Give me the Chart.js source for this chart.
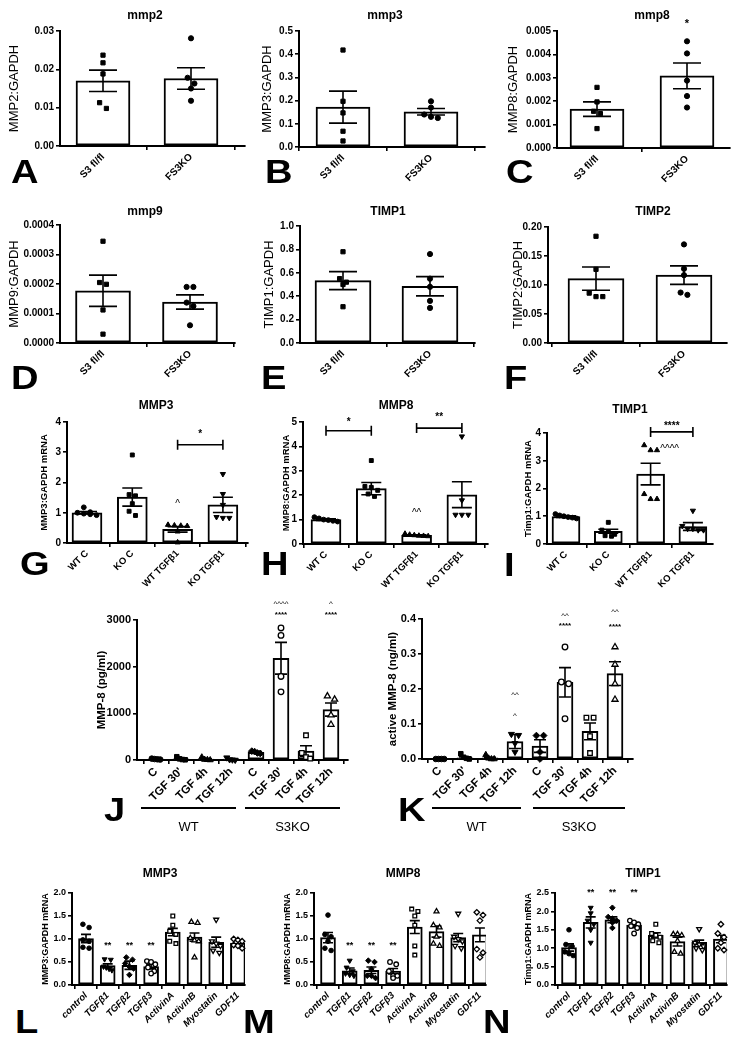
<!DOCTYPE html>
<html><head><meta charset="utf-8">
<script src="https://cdn.jsdelivr.net/npm/chart.js@4.4.1/dist/chart.umd.min.js"></script>
<style>
html,body{margin:0;padding:0;background:#fff;}
body{width:737px;height:1040px;position:relative;overflow:hidden;font-family:"Liberation Sans",Arial,sans-serif;color:#000;}
.ttl{position:absolute;transform:translate(-50%,-50%);font-weight:bold;font-size:12px;white-space:nowrap;}
.let{position:absolute;font-weight:bold;font-size:34px;line-height:1;transform-origin:0 0;transform:scaleX(1.12);}
.gl{position:absolute;height:2px;background:#000;}
.gt{position:absolute;transform:translate(-50%,-50%);font-size:13px;white-space:nowrap;}
</style></head><body>
<script>
// ================= DATA =================
const AF_cats = ['S3 fl/fl', 'FS3KO'];
const A_yticks = ['0.00','0.01','0.02','0.03'];
const A_means = [0.0170, 0.0176];
const A_sems = [0.0028, 0.0028];
const A_points = [[0.0237,0.0217,0.0188,0.0113,0.0098],[0.0281,0.0178,0.0163,0.0150,0.0118]];

const B_yticks = ['0.0','0.1','0.2','0.3','0.4','0.5'];
const B_means = [0.172, 0.152];
const B_sems = [0.069, 0.014];
const B_points = [[0.418,0.197,0.147,0.068,0.026],[0.197,0.170,0.140,0.130,0.125]];

const C_yticks = ['0.000','0.001','0.002','0.003','0.004','0.005'];
const C_means = [0.00166, 0.00308];
const C_sems = [0.00031, 0.00055];
const C_points = [[0.00259,0.00197,0.00157,0.00147,0.00083],[0.00456,0.00404,0.00288,0.00222,0.00173]];
const C_marks = [{at:1, y:0.0053, text:'*'}];

const D_yticks = ['0.0000','0.0001','0.0002','0.0003','0.0004'];
const D_means = [0.000177, 0.000139];
const D_sems = [0.000053, 0.000024];
const D_points = [[0.000345,0.000205,0.000199,0.000112,0.00003],[0.000190,0.000190,0.000137,0.000125,0.00006]];

const E_yticks = ['0.0','0.2','0.4','0.6','0.8','1.0'];
const E_means = [0.533, 0.485];
const E_sems = [0.077, 0.082];
const E_points = [[0.78,0.55,0.52,0.50,0.31],[0.76,0.55,0.48,0.36,0.30]];

const F_yticks = ['0.00','0.05','0.10','0.15','0.20'];
const F_means = [0.111, 0.117];
const F_sems = [0.020, 0.016];
const F_points = [[0.184,0.127,0.086,0.080,0.080],[0.170,0.128,0.117,0.087,0.083]];

const GHI_cats = ['WT C','KO C','WT TGFβ1','KO TGFβ1'];
const G_yticks = ['0','1','2','3','4'];
const G_means = [1.00, 1.52, 0.45, 1.26];
const G_sems = [0.04, 0.30, 0.09, 0.25];
const G_points = [[1.18,1.02,1.00,0.97,0.95,0.92],[2.91,1.60,1.56,1.30,1.05,0.91],[0.60,0.58,0.57,0.56,0.38,0.02],[2.28,1.62,1.26,0.86,0.83,0.83]];
const G_marks = [{at:2, y:1.27, text:'^'}];
const G_brackets = [{from:2, to:3, y:3.25, textY:3.58, text:'*'}];

const H_yticks = ['0','1','2','3','4','5'];
const H_means = [1.00, 2.27, 0.36, 2.02];
const H_sems = [0.03, 0.25, 0.02, 0.53];
const H_points = [[1.10,1.05,1.00,0.98,0.95,0.92],[3.42,2.36,2.32,2.20,2.05,1.95],[0.42,0.38,0.36,0.34,0.33,0.32],[4.41,1.79,1.20,1.20,1.20]];
const H_marks = [{at:2, y:1.27, text:'^^'}];
const H_brackets = [{from:0, to:1, y:4.64, textY:5.0, text:'*'},{from:2, to:3, y:4.75, textY:5.2, text:'**'}];

const I_yticks = ['0','1','2','3','4'];
const I_means = [0.99, 0.46, 2.52, 0.63];
const I_sems = [0.03, 0.07, 0.39, 0.14];
const I_points = [[1.08,1.03,1.00,0.97,0.95,0.92],[0.78,0.50,0.45,0.35,0.30,0.28],[3.56,3.38,3.38,1.80,1.62,1.62],[1.20,0.65,0.55,0.55,0.50,0.50]];
const I_marks = [{at:2.45, y:3.42, text:'^^^^'}];
const I_brackets = [{from:2, to:3, y:4.04, textY:4.24, text:'****'}];

const JK_cats = ['C',"TGF 30'",'TGF 4h','TGF 12h','C',"TGF 30'",'TGF 4h','TGF 12h'];
const JK_groups = ['WT','S3KO'];
const J_yticks = ['0','1000','2000','3000'];
const J_means = [20, 25, 15, 15, 165, 2180, 190, 1080];
const J_sems = [8, 15, 12, 8, 15, 340, 115, 140];
const J_points = [[30,20,15,10],[70,25,10,5],[60,10,5,0],[50,10,5,0],[190,180,150,140],[2830,2670,1790,1460],[530,150,60,30],[1370,1300,960,760]];
const J_marks = [{at:5, y:3343, text:'^^^^'},{at:5, y:3121, text:'****'},{at:7, y:3343, text:'^'},{at:7, y:3121, text:'****'}];

const K_yticks = ['0.0','0.1','0.2','0.3','0.4'];
const K_means = [0.000, 0.003, 0.003, 0.050, 0.037, 0.219, 0.079, 0.244];
const K_sems = [0.000, 0.003, 0.002, 0.020, 0.018, 0.042, 0.024, 0.034];
const K_points = [[0,0,0,0],[0.015,0.005,0.002,0],[0.012,0.002,0,0],[0.071,0.068,0.045,0.020],[0.067,0.067,0.020,0.000],[0.320,0.220,0.215,0.115],[0.118,0.118,0.065,0.017],[0.320,0.270,0.215,0.170]];
const K_marks = [{at:3, y:0.183, text:'^^'},{at:3, y:0.123, text:'^'},{at:5, y:0.408, text:'^^'},{at:5, y:0.381, text:'****'},{at:7, y:0.422, text:'^^'},{at:7, y:0.379, text:'****'}];

const LMN_cats = ['control','TGFβ1','TGFβ2','TGFβ3','ActivinA','ActivinB','Myostatin','GDF11'];
const L_yticks = ['0.0','0.5','1.0','1.5','2.0'];
const L_means = [1.01, 0.42, 0.43, 0.40, 1.15, 1.04, 0.93, 0.91];
const L_sems = [0.09, 0.04, 0.09, 0.05, 0.08, 0.09, 0.11, 0.06];
const L_points = [[1.32,1.25,0.98,0.95,0.82,0.80],[0.56,0.55,0.40,0.38,0.35,0.32],[0.60,0.55,0.47,0.40,0.36,0.22],[0.52,0.50,0.45,0.38,0.30,0.25],[1.50,1.30,1.17,1.10,0.95,0.90],[1.37,1.35,1.02,0.97,0.95,0.60],[1.42,0.95,0.90,0.85,0.75,0.70],[1.00,0.98,0.95,0.87,0.85,0.80]];
const L_marks = [{at:1, y:0.86, text:'**'},{at:2, y:0.86, text:'**'},{at:3, y:0.86, text:'**'}];

const M_yticks = ['0.0','0.5','1.0','1.5','2.0'];
const M_means = [1.03, 0.31, 0.32, 0.30, 1.26, 1.16, 1.03, 1.09];
const M_sems = [0.11, 0.06, 0.07, 0.06, 0.14, 0.12, 0.09, 0.15];
const M_points = [[1.52,1.10,1.05,0.95,0.80,0.75],[0.53,0.38,0.30,0.25,0.22,0.20],[0.53,0.50,0.35,0.20,0.20,0.15],[0.50,0.45,0.30,0.20,0.20,0.15],[1.65,1.60,1.50,1.30,0.85,0.65],[1.60,1.30,1.25,1.05,0.90,0.85],[1.55,1.05,1.00,0.95,0.85,0.80],[1.58,1.52,1.40,0.78,0.70,0.60]];
const M_marks = [{at:1, y:0.85, text:'**'},{at:2, y:0.85, text:'**'},{at:3, y:0.85, text:'**'}];

const N_yticks = ['0.0','0.5','1.0','1.5','2.0','2.5'];
const N_means = [1.02, 1.70, 1.77, 1.63, 1.35, 1.18, 1.16, 1.25];
const N_sems = [0.10, 0.15, 0.08, 0.07, 0.07, 0.12, 0.06, 0.10];
const N_points = [[1.50,1.10,1.05,0.90,0.85,0.80],[2.10,1.95,1.75,1.65,1.50,1.15],[2.10,1.85,1.80,1.75,1.70,1.55],[1.75,1.70,1.65,1.60,1.55,1.40],[1.65,1.40,1.35,1.30,1.20,1.15],[1.38,1.38,1.35,1.20,0.90,0.85],[1.52,1.15,1.10,1.05,1.00,0.95],[1.65,1.40,1.30,1.15,1.00,0.95]];
const N_marks = [{at:1, y:2.5, text:'**'},{at:2, y:2.5, text:'**'},{at:3, y:2.5, text:'**'}];

// ================= STYLE / LAYOUT =================
const FAM = "'Liberation Sans', Arial, sans-serif";
Chart.defaults.font.family = FAM;
Chart.defaults.color = '#000';
function mk(style, filled, rot){ return {style, filled, rot: rot || 0}; }
const FC=mk('circle',1), FS=mk('rect',1), FT=mk('triangle',1), FV=mk('triangle',1,180), FD=mk('rectRot',1),
      OC=mk('circle',0), OS=mk('rect',0), OT=mk('triangle',0), OV=mk('triangle',0,180), OD=mk('rectRot',0);

const fReg13 = {size:13, weight:'normal'};
const fB = (s)=>({size:s, weight:'bold'});
const fBI = (s)=>({size:s, weight:'bold', style:'italic'});

const panels = [
 {cats:AF_cats, yt:A_yticks, means:A_means, sems:A_sems, pts:A_points,
  L:{axisX:60, top:31, bottom:146, end:245, xOff:43, xStep:88, barW:54, cap:14, r:2.6, mk:[FS,FC], yTitle:'MMP2:GAPDH', yTitleX:15, yTF:fReg13, tF:fB(10), xF:fB(10)}},
 {cats:AF_cats, yt:B_yticks, means:B_means, sems:B_sems, pts:B_points,
  L:{axisX:299, top:31, bottom:147, end:485, xOff:44, xStep:88, barW:54, cap:14, r:2.6, mk:[FS,FC], yTitle:'MMP3:GAPDH', yTitleX:268, yTF:fReg13, tF:fB(10), xF:fB(10)}},
 {cats:AF_cats, yt:C_yticks, means:C_means, sems:C_sems, pts:C_points, marks:C_marks,
  L:{axisX:557, top:31, bottom:148, end:730, xOff:40, xStep:90, barW:54, cap:14, r:2.6, mk:[FS,FC], yTitle:'MMP8:GAPDH', yTitleX:514, yTF:fReg13, tF:fB(10), xF:fB(10), aF:fB(11)}},
 {cats:AF_cats, yt:D_yticks, means:D_means, sems:D_sems, pts:D_points,
  L:{axisX:60, top:225, bottom:343, end:235, xOff:43, xStep:87, barW:55, cap:14, r:2.6, mk:[FS,FC], yTitle:'MMP9:GAPDH', yTitleX:15, yTF:fReg13, tF:fB(10), xF:fB(10)}},
 {cats:AF_cats, yt:E_yticks, means:E_means, sems:E_sems, pts:E_points,
  L:{axisX:300, top:226, bottom:343, end:475, xOff:43, xStep:87, barW:56, cap:14, r:2.6, mk:[FS,FC], yTitle:'TIMP1:GAPDH', yTitleX:270, yTF:fReg13, tF:fB(10), xF:fB(10)}},
 {cats:AF_cats, yt:F_yticks, means:F_means, sems:F_sems, pts:F_points,
  L:{axisX:548, top:227, bottom:343, end:727, xOff:48, xStep:88, barW:56, cap:14, r:2.6, mk:[FS,FC], yTitle:'TIMP2:GAPDH', yTitleX:519, yTF:fReg13, tF:fB(10), xF:fB(10)}},
 {cats:GHI_cats, yt:G_yticks, means:G_means, sems:G_sems, pts:G_points, marks:G_marks, brackets:G_brackets,
  L:{axisX:67, top:422, bottom:543, end:248, xOff:20, xStep:45.3, barW:30, cap:10, r:2.4, mk:[FC,FS,FT,FV], yTitle:'MMP3:GAPDH mRNA', yTitleX:45, yTF:fB(9.5), tF:fB(10), xF:fB(9.5), aF:fB(10)}},
 {cats:GHI_cats, yt:H_yticks, means:H_means, sems:H_sems, pts:H_points, marks:H_marks, brackets:H_brackets,
  L:{axisX:303, top:422, bottom:544, end:488, xOff:23, xStep:45.3, barW:30, cap:10, r:2.4, mk:[FC,FS,FT,FV], yTitle:'MMP8:GAPDH mRNA', yTitleX:287, yTF:fB(9.5), tF:fB(10), xF:fB(9.5), aF:fB(10)}},
 {cats:GHI_cats, yt:I_yticks, means:I_means, sems:I_sems, pts:I_points, marks:I_marks, brackets:I_brackets,
  L:{axisX:547, top:433, bottom:544, end:713, xOff:19, xStep:42.3, barW:28, cap:10, r:2.4, mk:[FC,FS,FT,FV], yTitle:'Timp1:GAPDH mRNA', yTitleX:529, yTF:fB(9.5), tF:fB(10), xF:fB(9.5), aF:fB(10)}},
 {cats:JK_cats, yt:J_yticks, means:J_means, sems:J_sems, pts:J_points, marks:J_marks,
  L:{axisX:137, top:620, bottom:760, end:348, xOff:19, xStep:25, barW:16, cap:6, r:2.8, mk:[FC,FS,FT,FV,FD,OC,OS,OT], yTitle:'MMP-8 (pg/ml)', yTitleX:102, yTF:fB(11.5), tF:fB(11), xF:fB(11.5), aF:fB(8)}},
 {cats:JK_cats, yt:K_yticks, means:K_means, sems:K_sems, pts:K_points, marks:K_marks,
  L:{axisX:422, top:619, bottom:759, end:633, xOff:18, xStep:25, barW:16, cap:6, r:2.8, mk:[FC,FS,FT,FV,FD,OC,OS,OT], yTitle:'active MMP-8 (ng/ml)', yTitleX:393, yTF:fB(11.5), tF:fB(11), xF:fB(11.5), aF:fB(8)}},
 {cats:LMN_cats, yt:L_yticks, means:L_means, sems:L_sems, pts:L_points, marks:L_marks,
  L:{axisX:72, top:893, bottom:985, end:245, xOff:14, xStep:21.7, barW:15, cap:5, r:2.3, mk:[FC,FV,FD,OC,OS,OT,OV,OD], yTitle:'MMP3:GAPDH mRNA', yTitleX:45, yTF:fB(9), tF:fB(9), xF:fBI(9.5), aF:fB(9)}},
 {cats:LMN_cats, yt:M_yticks, means:M_means, sems:M_sems, pts:M_points, marks:M_marks,
  L:{axisX:314, top:893, bottom:985, end:486, xOff:14, xStep:21.7, barW:15, cap:5, r:2.3, mk:[FC,FV,FD,OC,OS,OT,OV,OD], yTitle:'MMP8:GAPDH mRNA', yTitleX:287, yTF:fB(9), tF:fB(9), xF:fBI(9.5), aF:fB(9)}},
 {cats:LMN_cats, yt:N_yticks, means:N_means, sems:N_sems, pts:N_points, marks:N_marks,
  L:{axisX:555, top:893, bottom:985, end:727, xOff:14, xStep:21.7, barW:15, cap:5, r:2.3, mk:[FC,FV,FD,OC,OS,OT,OV,OD], yTitle:'Timp1:GAPDH mRNA', yTitleX:528, yTF:fB(9), tF:fB(9), xF:fBI(9.5), aF:fB(9)}},
];

const titles = [
 ['mmp2',145,15],['mmp3',385,15],['mmp8',652,15],
 ['mmp9',145,211],['TIMP1',388,211],['TIMP2',653,211],
 ['MMP3',156,405],['MMP8',396,405],['TIMP1',630,409],
 ['MMP3',160,873],['MMP8',403,873],['TIMP1',643,873]
];
const letters = [
 ['A',11,158],['B',265,158],['C',506,158],
 ['D',11,364],['E',261,364],['F',504,364],
 ['G',20,550],['H',261,550],['I',504,551],
 ['J',104,796],['K',398,796],
 ['L',15,1008],['M',243,1008],['N',483,1008]
];
// group underline bars for J/K: [x1, x2] page px, label
const groupBars = [
 [141,236,JK_groups[0]],[245,340,JK_groups[1]],
 [432,521,JK_groups[0]],[533,625,JK_groups[1]]
];
const groupLineY = 808, groupTextY = 826;

// ================= BUILD =================
function swarm(vals, pyu, d, maxHalf){
  const idx = vals.map((v,i)=>i).sort((a,b)=>vals[b]-vals[a]);
  const off = new Array(vals.length).fill(0);
  let row = [], rowY = null;
  const flush = ()=>{
    const k = row.length; let dd = d;
    if (k > 1 && (k-1)*dd > 2*maxHalf) dd = 2*maxHalf/(k-1);
    row.forEach((j,n)=>{ off[j] = (n-(k-1)/2)*dd; });
    row = [];
  };
  for (const i of idx){
    const y = vals[i]*pyu;
    if (row.length && rowY - y > d*0.85) flush();
    if (!row.length) rowY = y;
    row.push(i);
  }
  flush();
  return off;
}

function fontStr(f){ return `${f.style||'normal'} ${f.weight||'normal'} ${f.size}px ${FAM}`; }

function build(p){
  const Lo = p.L;
  const lh = Lo.yTF.size*1.2;
  const cl = Math.round(Lo.yTitleX - lh/2);
  const W = Lo.axisX - cl;
  const T = 34, H = 62, R = 8;
  const cw = Math.ceil(Lo.end - cl + R);
  const ch = Math.ceil(T + (Lo.bottom - Lo.top) + H);
  const cv = document.createElement('canvas');
  cv.width = cw; cv.height = ch;
  cv.style.cssText = `position:absolute;left:${cl}px;top:${Lo.top - T}px;width:${cw}px;height:${ch}px;`;
  document.body.appendChild(cv);

  const yv = p.yt.map(Number);
  const ymin = yv[0], ymax = yv[yv.length-1];
  const xmin = -Lo.xOff / Lo.xStep;
  const xmax = xmin + (Lo.end - Lo.axisX) / Lo.xStep;
  const pyu = (Lo.bottom - Lo.top) / (ymax - ymin);

  const datasets = [{
    type:'bar', order:2,
    data: p.means.map((m,i)=>({x:i, y:m})),
    backgroundColor:'#ffffff', borderColor:'#000', borderWidth:2, borderSkipped:false,
    barThickness: Lo.barW
  }];
  p.pts.forEach((vals,i)=>{
    const m = Lo.mk[i];
    const d = Lo.r*2 + 1.6;
    const off = swarm(vals, pyu, d, Lo.barW/2 - Lo.r - 1);
    datasets.push({
      type:'scatter', order:1, clip:false, showLine:false,
      data: vals.map((v,k)=>({x: i + off[k]/Lo.xStep, y: v})),
      pointStyle: m.style,
      pointRadius: m.style==='rect' ? Lo.r*1.15 : (m.style==='triangle' ? Lo.r*1.25 : (m.style==='rectRot' ? Lo.r*1.2 : Lo.r)),
      pointRotation: m.rot,
      pointBackgroundColor: m.filled ? '#000' : '#fff',
      pointBorderColor:'#000',
      pointBorderWidth: m.filled ? 1 : 1.3
    });
  });

  const plug = {
    id:'annot',
    afterDatasetDraw(chart, args){
      if (args.index !== 0) return;
      const ctx = chart.ctx, xs = chart.scales.x, ys = chart.scales.y;
      ctx.save(); ctx.strokeStyle = '#000'; ctx.lineWidth = 1.6;
      p.means.forEach((m,i)=>{
        const x = xs.getPixelForValue(i);
        const y1 = ys.getPixelForValue(m + p.sems[i]);
        const y2 = ys.getPixelForValue(Math.max(m - p.sems[i], ymin));
        ctx.beginPath();
        ctx.moveTo(x, y1); ctx.lineTo(x, y2);
        ctx.moveTo(x - Lo.cap, y1); ctx.lineTo(x + Lo.cap, y1);
        ctx.moveTo(x - Lo.cap, y2); ctx.lineTo(x + Lo.cap, y2);
        ctx.stroke();
      });
      ctx.restore();
    },
    afterDraw(chart){
      const ctx = chart.ctx, xs = chart.scales.x, ys = chart.scales.y;
      ctx.save();
      ctx.fillStyle = '#000'; ctx.strokeStyle = '#000';
      ctx.textAlign = 'center'; ctx.textBaseline = 'middle';
      const af = Lo.aF || fB(10);
      (p.brackets||[]).forEach(b=>{
        const x1 = xs.getPixelForValue(b.from), x2 = xs.getPixelForValue(b.to), y = ys.getPixelForValue(b.y);
        ctx.lineWidth = 1.6;
        ctx.beginPath();
        ctx.moveTo(x1, y); ctx.lineTo(x2, y);
        ctx.moveTo(x1, y-5); ctx.lineTo(x1, y+5);
        ctx.moveTo(x2, y-5); ctx.lineTo(x2, y+5);
        ctx.stroke();
        ctx.font = fontStr(af);
        ctx.fillText(b.text, (x1+x2)/2, ys.getPixelForValue(b.textY));
      });
      (p.marks||[]).forEach(mk=>{
        ctx.font = fontStr(mk.text.indexOf('^')>=0 ? {size:af.size, weight:'normal'} : af);
        ctx.fillText(mk.text, xs.getPixelForValue(mk.at), ys.getPixelForValue(mk.y));
      });
      ctx.restore();
    }
  };

  new Chart(cv, {
    type:'bar',
    data:{datasets},
    plugins:[plug],
    options:{
      responsive:false, maintainAspectRatio:false, animation:false, events:[], devicePixelRatio:1,
      layout:{padding:{left:0, right:R, top:T, bottom:0}},
      plugins:{legend:{display:false}, tooltip:{enabled:false}, title:{display:false}},
      scales:{
        x:{
          type:'linear', position:'bottom', min:xmin, max:xmax, bounds:'data', offset:false,
          afterBuildTicks:(s)=>{ s.ticks = p.cats.map((c,i)=>({value:i})); },
          afterFit:(s)=>{ s.height = H; },
          ticks:{autoSkip:false, minRotation:45, maxRotation:45, padding:1, font:Lo.xF, color:'#000',
                 callback:(v,i)=>p.cats[i]},
          grid:{display:true, drawOnChartArea:false, drawTicks:true, tickLength:4, color:'#000', lineWidth:1.6},
          border:{display:true, color:'#000', width:2}
        },
        y:{
          type:'linear', min:ymin, max:ymax, bounds:'data',
          afterBuildTicks:(s)=>{ s.ticks = yv.map(v=>({value:v})); },
          afterFit:(s)=>{ s.width = W; },
          ticks:{autoSkip:false, padding:2, font:Lo.tF, color:'#000', callback:(v,i)=>p.yt[i]},
          grid:{display:true, drawOnChartArea:false, drawTicks:true, tickLength:4, color:'#000', lineWidth:1.6},
          border:{display:true, color:'#000', width:2},
          title:{display:true, text:Lo.yTitle, font:Lo.yTF, color:'#000', padding:0}
        }
      }
    }
  });
}

panels.forEach(build);

titles.forEach(([t,x,y])=>{
  const d = document.createElement('div'); d.className='ttl'; d.textContent=t;
  d.style.left = x+'px'; d.style.top = y+'px'; document.body.appendChild(d);
});
letters.forEach(([t,x,y])=>{
  const d = document.createElement('div'); d.className='let'; d.textContent=t;
  d.style.left = x+'px'; d.style.top = (y-4)+'px'; document.body.appendChild(d);
});
groupBars.forEach(([x1,x2,t])=>{
  const l = document.createElement('div'); l.className='gl';
  l.style.left = x1+'px'; l.style.width = (x2-x1)+'px'; l.style.top = (groupLineY-1)+'px';
  document.body.appendChild(l);
  const d = document.createElement('div'); d.className='gt'; d.textContent=t;
  d.style.left = ((x1+x2)/2)+'px'; d.style.top = groupTextY+'px'; document.body.appendChild(d);
});
</script>
</body></html>
